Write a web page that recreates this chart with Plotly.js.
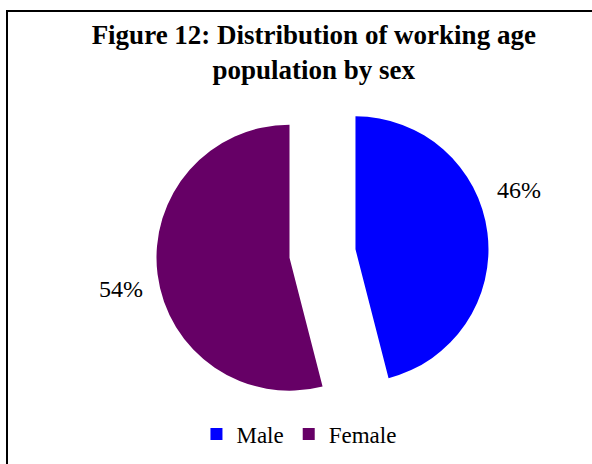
<!DOCTYPE html>
<html>
<head>
<meta charset="utf-8">
<script src="https://cdn.plot.ly/plotly-3.0.1.min.js"></script>
<style>html,body{margin:0;padding:0;background:#fff;}</style>
</head>
<body>
<div id="chart" style="width:592px;height:464px;"></div>
<script>
var categories = ["Male", "Female"];
var values = [46, 54];
var colors = ["#0000FF", "#660066"];
var titleText = "Figure 12: Distribution of working age<br>population by sex";

var total = values.reduce(function(a, b){ return a + b; }, 0);
var pctText = values.map(function(v){ return Math.round(v / total * 100) + "%"; });

var serif = "Liberation Serif";

var data = [{
  type: "pie",
  labels: categories,
  values: values,
  sort: false,
  direction: "clockwise",
  rotation: 0,
  pull: [0.25, 0.25],
  marker: {colors: colors, line: {width: 0}},
  textinfo: "none",
  hoverinfo: "label+percent",
  domain: {x: [0.2639, 0.8256], y: [0.0954, 0.812]}
}];

var layout = {
  width: 592,
  height: 464,
  margin: {l: 0, r: 0, t: 0, b: 0},
  paper_bgcolor: "#ffffff",
  font: {family: serif, color: "#000000"},
  title: {
    text: titleText,
    font: {family: serif, size: 27, color: "#000000", weight: "bold"},
    x: 0.530, xanchor: "center",
    y: 0.9055, yanchor: "top"
  },
  showlegend: true,
  legend: {
    orientation: "h",
    x: 0.505, xanchor: "center",
    y: 0.0647, yanchor: "middle",
    font: {family: serif, size: 23, color: "#000000"},
    traceorder: "normal"
  },
  annotations: [
    {text: pctText[0], x: 519/592, y: (464-190)/464, xref: "paper", yref: "paper",
     showarrow: false, font: {family: serif, size: 24, color: "#000000"}, xanchor: "center", yanchor: "middle"},
    {text: pctText[1], x: 121/592, y: (464-289)/464, xref: "paper", yref: "paper",
     showarrow: false, font: {family: serif, size: 24, color: "#000000"}, xanchor: "center", yanchor: "middle"}
  ],
  shapes: [
    {type: "rect", xref: "paper", yref: "paper", x0: 7/592, x1: 1.05, y0: -0.05, y1: (464-11)/464,
     line: {color: "#000000", width: 2}, fillcolor: "rgba(0,0,0,0)", layer: "below"}
  ]
};

Plotly.newPlot("chart", data, layout, {displayModeBar: false, staticPlot: true});
</script>
</body>
</html>
